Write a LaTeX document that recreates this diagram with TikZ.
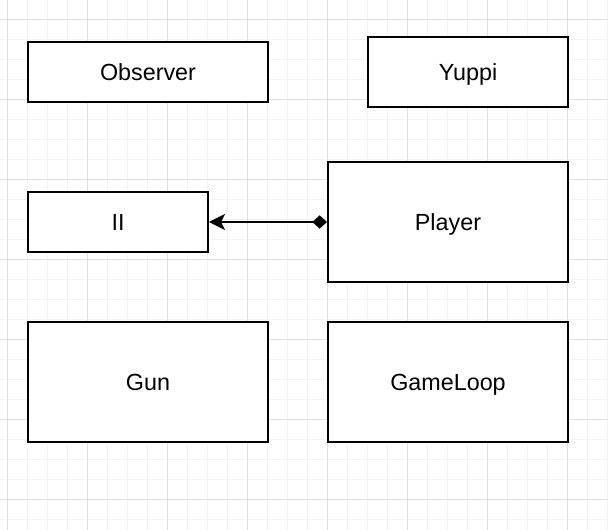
\documentclass[tikz,border=0pt]{standalone}
\usepackage{fontspec}
\setmainfont{Liberation Sans}
\usetikzlibrary{arrows.meta}
\definecolor{gridminor}{HTML}{F3F3F3}
\definecolor{gridmajor}{HTML}{E0E0E0}
\begin{document}
\begin{tikzpicture}[x=0.75pt,y=-0.75pt,
  box/.style={draw=black,line width=1.5pt,fill=white,font=\fontsize{17.5}{21}\selectfont,inner sep=0pt,text height=15.84pt,text depth=3.71pt},
  conn/.style={draw=black,line width=1.5pt}]
\useasboundingbox (0,0) rectangle (608,530);
\fill[white] (0,0) rectangle (608,530);
% minor grid
\foreach \x in {7,27,...,607} \draw[gridminor,line width=0.75pt] (\x,0) -- (\x,530);
\foreach \y in {0,20,...,530} \draw[gridminor,line width=0.75pt] (0,\y) -- (608,\y);
% major grid
\foreach \x in {7,87,...,607} \draw[gridmajor,line width=0.75pt] (\x,0) -- (\x,530);
\foreach \y in {20,100,...,530} \draw[gridmajor,line width=0.75pt] (0,\y) -- (608,\y);
% boxes
\node[box,minimum width=180pt,minimum height=45pt] (observer) at (148,72) {Observer};
\node[box,minimum width=150pt,minimum height=52.5pt] (yuppi) at (468,72) {Yuppi};
\node[box,minimum width=135pt,minimum height=45pt] (ii) at (118,222) {II};
\node[box,minimum width=180pt,minimum height=90pt] (player) at (448,222) {Player};
\node[box,minimum width=180pt,minimum height=90pt] (gun) at (148,382) {Gun};
\node[box,minimum width=180pt,minimum height=90pt] (gameloop) at (448,382) {GameLoop};
% connector
\draw[conn,{Stealth[length=12pt,width=12pt,inset=3pt]}-{Diamond[length=11pt,width=10pt]}] (ii.east) -- (player.west);
\end{tikzpicture}
\end{document}
